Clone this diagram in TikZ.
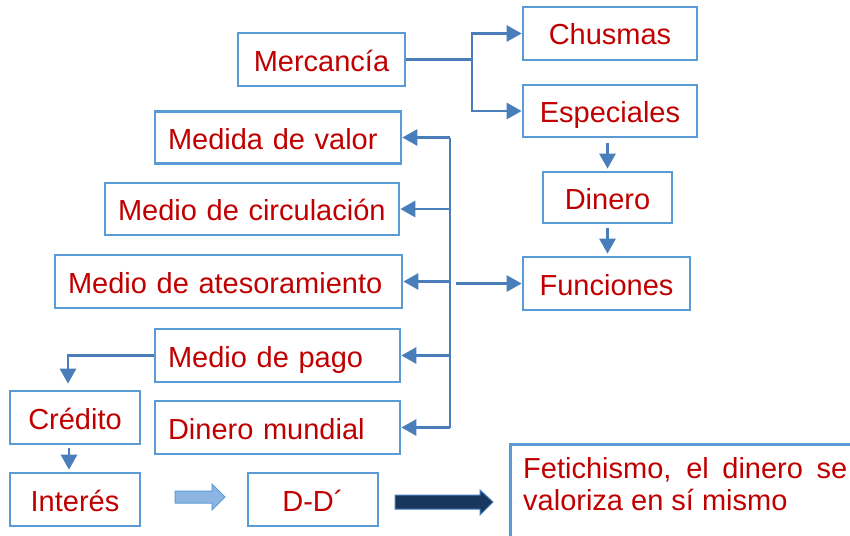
\documentclass[tikz,border=0pt]{standalone}
\usepackage{fontspec}
\setmainfont{Liberation Sans}
\usetikzlibrary{arrows.meta}
\definecolor{boxc}{HTML}{5B9BD5}
\definecolor{conc}{HTML}{4A7EBB}
\definecolor{txtc}{HTML}{C00000}
\definecolor{lightar}{HTML}{8EB4E3}
\definecolor{darkar}{HTML}{17375E}
\begin{document}
\begin{tikzpicture}[x=1pt,y=-1pt,
 bx/.style={draw=boxc, line width=2.7pt, text=txtc, font=\fontsize{29}{32}\selectfont, text height=23pt, text depth=0pt, inner sep=0pt, minimum height=53pt},
 lbx/.style={bx, align=left, inner xsep=13pt},
 conn/.style={draw=conc, line width=2.9pt},
 arr/.style={conn, -{Triangle[length=15pt,width=16pt]}},
 blockarrow/.style={line width=1pt, line join=miter}
]
\fill[white] (0,0) rectangle (850,535);
\useasboundingbox (0,0) rectangle (850,535);
\clip (0,0) rectangle (850,535);

\node[bx, minimum width=167pt] (merc) at (321.5,59.5) {Mercancía};
\node[bx, minimum width=174pt] (chus) at (610,33.5) {Chusmas};
\node[bx, minimum width=174pt, minimum height=52pt] (esp) at (610,111) {Especiales};
\node[bx, minimum width=129pt, minimum height=51pt] (din) at (607.5,197.5) {Dinero};
\node[bx, minimum width=167pt] (fun) at (606.5,283.5) {Funciones};

\node[lbx, text width=220pt, minimum height=52pt] (medida) at (278,137.5) {Medida de valor};
\node[lbx, text width=268pt, minimum height=52pt] (circ) at (252,209) {Medio de circulación};
\node[lbx, text width=321pt] (ates) at (228.5,281.5) {Medio de atesoramiento};
\node[lbx, text width=219pt] (pago) at (277.5,355.5) {Medio de pago};
\node[lbx, text width=219pt] (mund) at (277.5,427.5) {Dinero mundial};

\node[bx, minimum width=130pt] (cred) at (75,417.5) {Crédito};
\node[bx, minimum width=130pt] (int) at (75,499.5) {Interés};
\node[bx, minimum width=130pt] (dd) at (313,499.5) {D-D´};

\node[draw=boxc, line width=2.7pt, minimum width=361pt, minimum height=117pt, anchor=north west, inner sep=0pt] (fetbox) at (509,443) {};
\node[text=txtc, font=\fontsize{29}{32}\selectfont, text width=324pt, align=justify, inner sep=0pt, anchor=north west] (fet) at (523,457) {Fetichismo, el dinero se valoriza en sí mismo};

% Mercancia branches
\coordinate (mj) at (472,59.5);
\draw[conn] (merc.east) -- (mj);
\draw[arr] (mj) |- (chus.west);
\draw[arr] (mj) |- (esp.west);

% vertical chain
\draw[arr, shorten <=5pt, shorten >=2pt] (din.north |- esp.south) -- (din.north);
\draw[arr, shorten <=4pt, shorten >=2pt] (din.south) -- (din.south |- fun.north);

% bus
\coordinate (btop) at (450,137.5);
\coordinate (bbot) at (450,427.5);
\draw[conn] (btop) -- (bbot);
\draw[arr] (btop) -- (medida.east);
\draw[arr] (btop |- circ.east) -- (circ.east);
\draw[arr] (btop |- ates.east) -- (ates.east);
\draw[arr] (btop |- pago.east) -- (pago.east);
\draw[arr] (bbot) -- (mund.east);
\coordinate (fs) at (456,283.5);
\draw[arr] (fs) -- (fun.west);

% pago -> credito -> interes
\coordinate (pc) at (68,355.5);
\draw[arr, shorten >=6pt] (pago.west) -- (pc) -- (pc |- cred.north);
\draw[arr, shorten <=3pt, shorten >=2pt] ([xshift=-6pt]cred.south) -- ([xshift=-6pt]int.north);

% block arrows
\filldraw[blockarrow, fill=lightar, draw=boxc] (175,491) -- (212,491) -- (212,484) -- (225,497) -- (212,510) -- (212,503) -- (175,503) -- cycle;
\filldraw[blockarrow, fill=darkar, draw=conc] (395,495) -- (480,495) -- (480,490) -- (493,502) -- (480,515) -- (480,509) -- (395,509) -- cycle;
\end{tikzpicture}
\end{document}
